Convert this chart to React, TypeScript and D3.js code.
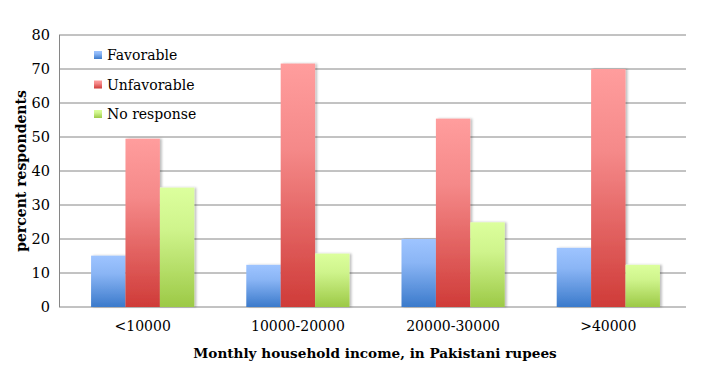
import React from 'react'
import * as d3 from 'd3'

const categories = ['<10000', '10000-20000', '20000-30000', '>40000']
const seriesNames = ['Favorable', 'Unfavorable', 'No response']
const favorable = [15.1, 12.4, 20, 17.4]
const unfavorable = [49.5, 71.6, 55.4, 70]
const noResponse = [35.1, 15.7, 24.9, 12.4]
const yTicks = [0, 10, 20, 30, 40, 50, 60, 70, 80]

const W = 706
const H = 373
const FONT = '"DejaVu Serif", Cambria, serif'

// top / bottom colours of each bar gradient
const grads = [
  ['#9ec4ff', '#3b7acb'],
  ['#ff9d9d', '#cf3b38'],
  ['#dcff9d', '#9cc946']
]

const App = () => {
  const values = [favorable, unfavorable, noResponse]

  const y = d3.scaleLinear().domain([0, 80]).range([307, 35])
  const x0 = d3.scaleBand().domain(categories).range([65, 686]).paddingInner(0.335).paddingOuter(0.168)
  const x1 = d3.scaleBand().domain(seriesNames).range([0, x0.bandwidth()])

  return (
    <svg width={W} height={H} style={{ position: 'absolute', left: 0, top: 0 }}>
      <defs>
        {grads.map((g, i) => (
          <linearGradient key={i} id={'g' + i} x1="0" y1="0" x2="0" y2="1">
            <stop offset="0" stopColor={g[0]} />
            <stop offset="0.35" stopColor={d3.interpolateRgb(g[0], g[1])(0.2)} />
            <stop offset="1" stopColor={g[1]} />
          </linearGradient>
        ))}
        <filter id="shadow" x="-20%" y="-5%" width="150%" height="110%">
          <feDropShadow dx="2" dy="0" stdDeviation="1.2" floodColor="#000" floodOpacity="0.25" />
        </filter>
      </defs>
      <rect width={W} height={H} fill="#fff" />

      {/* gridlines */}
      {yTicks.map(t => (
        <line key={t} x1={59} x2={686} y1={y(t)} y2={y(t)} stroke="#868686" strokeWidth={1} />
      ))}
      <line x1={59.5} x2={59.5} y1={y(80)} y2={y(0)} stroke="#868686" strokeWidth={1} />

      {/* tick labels */}
      {yTicks.map(t => (
        <text key={t} x={50} y={y(t)} dy="0.36em" textAnchor="end" fontFamily={FONT} fontSize={14.5} fill="#000">
          {t}
        </text>
      ))}

      {/* bars */}
      {categories.map((c, ci) => (
        <g key={c} transform={`translate(${x0(c)},0)`} filter="url(#shadow)">
          {seriesNames.map((s, si) => {
            const v = values[si][ci]
            return (
              <rect
                key={s}
                x={x1(s)}
                y={y(v)}
                width={x1.bandwidth()}
                height={y(0) - y(v)}
                fill={`url(#g${si})`}
              />
            )
          })}
        </g>
      ))}

      {/* category labels */}
      {categories.map(c => (
        <text key={c} x={(x0(c) as number) + x0.bandwidth() / 2} y={331} textAnchor="middle" fontFamily={FONT} fontSize={14} fill="#000">
          {c}
        </text>
      ))}

      {/* legend */}
      {seriesNames.map((s, i) => (
        <g key={s} transform={`translate(94,${55 + i * 29.5})`}>
          <rect x={0} y={-4} width={8} height={8} fill={`url(#g${i})`} />
          <text x={13} y={0} dy="0.36em" fontFamily={FONT} fontSize={14} fill="#000">
            {s}
          </text>
        </g>
      ))}

      {/* axis titles */}
      <text
        transform={`translate(21,${(y(0) + y(80)) / 2}) rotate(-90)`}
        textAnchor="middle"
        dy="0.36em"
        fontFamily={FONT}
        fontWeight="bold"
        fontSize={14}
        fill="#000"
      >
        percent respondents
      </text>
      <text x={375} y={358} textAnchor="middle" fontFamily={FONT} fontWeight="bold" fontSize={13.6} fill="#000">
        Monthly household income, in Pakistani rupees
      </text>
    </svg>
  )
}

export default App
